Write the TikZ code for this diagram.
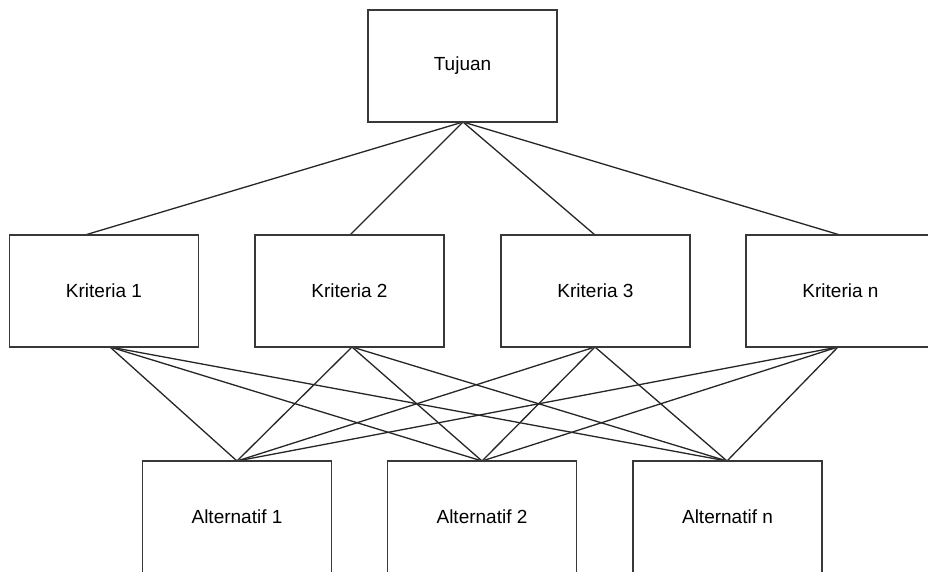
\documentclass[tikz,border=0pt]{standalone}
\usepackage{fontspec}
\setmainfont{Liberation Sans}
\begin{document}
\begin{tikzpicture}[x=1pt,y=-1pt,
  box/.style={draw=black!78,line width=1.7pt,fill=white,minimum width=189pt,minimum height=112pt,inner sep=0pt,font=\fontsize{19}{22}\selectfont},
  link/.style={draw=black!85,line width=1.3pt}]
\clip (0,0) rectangle (928,572);
\fill[white] (0,0) rectangle (928,572);
% connectors first
\coordinate (tb) at (463,122);
\coordinate (k1t) at (85,235);
\coordinate (k1b) at (110,347);
\coordinate (k2t) at (350,235);
\coordinate (k2b) at (352,347);
\coordinate (k3t) at (595,235);
\coordinate (k3b) at (595,347);
\coordinate (knt) at (840,235);
\coordinate (knb) at (838,347);
\coordinate (a1t) at (237,461);
\coordinate (a2t) at (482,461);
\coordinate (ant) at (727,461);
\foreach \k in {k1t,k2t,k3t,knt} \draw[link] (tb) -- (\k);
\foreach \k in {k1b,k2b,k3b,knb}
  \foreach \a in {a1t,a2t,ant} \draw[link] (\k) -- (\a);
\node[box] (tujuan) at (462.5,66) {Tujuan};
\node[box] (k1) at (104,291) {Kriteria 1};
\node[box] (k2) at (349.5,291) {Kriteria 2};
\node[box] (k3) at (595.5,291) {Kriteria 3};
\node[box] (kn) at (840.5,291) {Kriteria n};
\node[box] (a1) at (237,517) {Alternatif 1};
\node[box] (a2) at (482,517) {Alternatif 2};
\node[box] (an) at (727.5,517) {Alternatif n};
\end{tikzpicture}
\end{document}
